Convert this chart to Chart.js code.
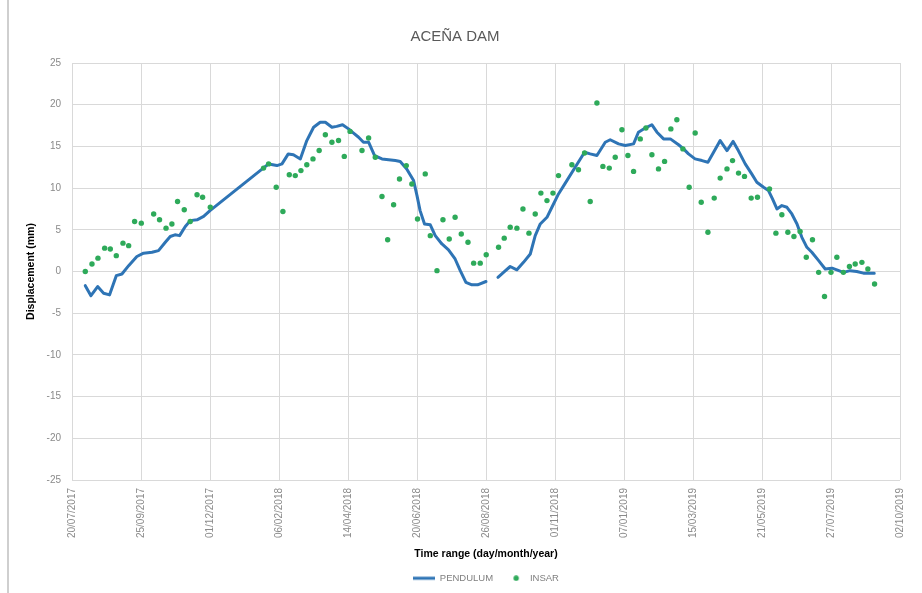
<!DOCTYPE html>
<html>
<head>
<meta charset="utf-8">
<title>ACEÑA DAM</title>
<script src="https://cdn.jsdelivr.net/npm/chart.js@4/dist/chart.umd.min.js"></script>
<style>
  html, body { margin: 0; padding: 0; background: #ffffff; }
  #wrap { position: relative; width: 922px; height: 593px; overflow: hidden; }
  #wrap canvas { position: absolute; left: 0; top: 0; }
  #edge { position: absolute; left: 7px; top: 0; width: 2px; height: 593px; background: #cfcfcf; }
</style>
</head>
<body>
<div id="wrap">
  <canvas id="chart" width="922" height="593"></canvas>
  <div id="edge"></div>
</div>
<script>
// Axis dates, one every 67 days starting at 20/07/2017 (day 0)
const xTickLabels = ['20/07/2017', '25/09/2017', '01/12/2017', '06/02/2018', '14/04/2018',
  '20/06/2018', '26/08/2018', '01/11/2018', '07/01/2019', '15/03/2019',
  '21/05/2019', '27/07/2019', '02/10/2019'];
const tickStepDays = 67;

const yTickStep = 5;
const yMin = -25;
const yMax = 25;

// Pendulum readings: days since 20/07/2017 and displacement (mm); null marks the missing stretch
const pendulumDays = [12.9, 18.4, 24.9, 30.7, 36.5, 43, 48.5, 55, 63, 69.5, 77.7, 84, 90.6, 95.4, 100,
  104.5, 110, 114.9, 121.4, 127.8, 134, 190.9, 199, 203.9, 210, 215, 221.7, 228, 234.6, 241, 246,
  252.4, 257, 262.7, 268.5, 273.4, 278.3, 283, 288, 293.8, 301, 307.4, 314, 318.7, 325, 331.7, 335,
  338, 342.3, 347.9, 352.7, 359.2, 365.6, 372, 377, 382.5, 388.3, 393.8, 402, 408, 413.6, 419, 425.5,
  432, 438.4, 445, 449.8, 454.7, 461.2, 466, 472.4, 479, 488.6, 497.7, 503.2, 509.7, 517.8, 522.6,
  530.7, 537.2, 545.3, 550, 556.6, 563, 568, 574.4, 581, 589, 593.8, 598.6, 605, 611.7, 617.5, 623,
  629.4, 636, 642, 647, 653.7, 660, 665, 671.5, 676.3, 680.2, 684.5, 689.3, 694.2, 699, 704, 708.7,
  713.6, 718.4, 725, 731.4, 738, 742.7, 749, 755.6, 762, 768.5, 775, 779];
const pendulumMm = [-1.7, -2.9, -1.8, -2.6, -2.8, -0.5, -0.3, 0.7, 1.8, 2.2, 2.3, 2.5, 3.5, 4.2, 4.4,
  4.3, 5.4, 6.1, 6.2, 6.6, 7.3, 12.9, 12.7, 12.9, 14.1, 14.0, 13.5, 15.7, 17.3, 17.9, 17.9,
  17.3, 17.4, 17.6, 17.1, 16.6, 16.1, 15.5, 15.5, 13.9, 13.5, 13.4, 13.3, 13.2, 12.3, 10.9, 9.1,
  7.3, 5.7, 5.6, 4.3, 3.3, 2.6, 1.5, 0.1, -1.3, -1.6, -1.6, -1.2, null, -0.7, -0.1, 0.6,
  0.2, 1.1, 2.1, 4.3, 5.7, 6.5, 7.7, 9.3, 10.6, 12.5, 14.3, 14.1, 13.9, 15.5, 15.8,
  15.3, 15.1, 15.3, 16.7, 17.2, 17.6, 16.7, 15.9, 15.9, 15.2, 14.7, 14.1, 13.5, 13.3, 13.1, 14.3,
  15.7, 14.5, 15.6, 14.5, 12.9, 11.7, 10.7, 10.1, 9.7, 8.7, 7.5, 7.9, 7.7, 6.9, 5.7, 4.1,
  2.9, 2.3, 1.3, 0.3, 0.4, 0.2, -0.1, 0.1, 0.0, -0.2, -0.2, -0.2];

// InSAR acquisitions: days since 20/07/2017 and displacement (mm)
const insarDays = [12.9, 19.4, 25.2, 31.7, 37.2, 43, 49.5, 55, 60.8, 67.3, 79.3, 85, 91.3, 97, 102.5,
  109, 114.8, 121.4, 126.8, 134.3, 186, 190.9, 198.3, 204.8, 211, 216.8, 222.3, 228, 234, 240, 246,
  252.4, 258.8, 264.4, 270, 281.6, 288, 294.5, 301, 306.5, 312.3, 318, 324.6, 330, 335.5, 343, 347.9,
  354.4, 360.2, 366.3, 372, 378, 384.5, 390, 396.4, 402.2, 414.2, 419.7, 425.5, 432, 437.9, 443.7,
  449.8, 455.3, 461.2, 467, 472.4, 485.4, 491.8, 497.7, 503.2, 509.7, 515.5, 521.7, 527.5, 534, 539.8,
  545.3, 551.8, 557.3, 563.1, 569.5, 575.4, 581.5, 587.3, 593.2, 599.3, 605.1, 611, 617.5, 623.6,
  629.4, 636, 641.4, 647.2, 653, 659.5, 665.6, 677.3, 683.5, 689.3, 695.1, 701, 707, 713, 719, 725,
  730.7, 737, 742.7, 749, 754.9, 760.5, 767, 772.8, 779.3];
const insarMm = [0.0, 0.9, 1.6, 2.8, 2.7, 1.9, 3.4, 3.1, 6.0, 5.8, 6.9, 6.2, 5.2, 5.7, 8.4,
  7.4, 6.0, 9.2, 8.9, 7.7, 12.4, 12.9, 10.1, 7.2, 11.6, 11.5, 12.1, 12.8, 13.5, 14.5, 16.4,
  15.5, 15.7, 13.8, 16.8, 14.5, 16.0, 13.7, 9.0, 3.8, 8.0, 11.1, 12.7, 10.5, 6.3, 11.7, 4.3,
  0.1, 6.2, 3.9, 6.5, 4.5, 3.5, 1.0, 1.0, 2.0, 2.9, 4.0, 5.3, 5.2, 7.5, 4.6,
  6.9, 9.4, 8.5, 9.4, 11.5, 12.8, 12.2, 14.2, 8.4, 20.2, 12.6, 12.4, 13.7, 17.0, 13.9,
  12.0, 15.9, 17.2, 14.0, 12.3, 13.2, 17.1, 18.2, 14.7, 10.1, 16.6, 8.3, 4.7, 8.8,
  11.2, 12.3, 13.3, 11.8, 11.4, 8.8, 8.9, 9.9, 4.6, 6.8, 4.7, 4.2, 4.8, 1.7, 3.8, -0.1,
  -3.0, -0.1, 1.7, -0.1, 0.6, 0.9, 1.1, 0.3, -1.5];

const PENDULUM_BLUE = '#2e74b5';
const INSAR_GREEN = '#2eaa5a';
const GRID_GREY = '#d9d9d9';
const TICK_GREY = '#8a8a8a';
const LEGEND_GREY = '#7f7f7f';

const toPoints = (xs, ys) => xs.map((x, i) => ({ x: x, y: ys[i] }));

// Small swatches for the legend: a thick line and a single dot
function makeSwatch(width, height, paint) {
  const c = document.createElement('canvas');
  c.width = width;
  c.height = height;
  paint(c.getContext('2d'), width, height);
  return c;
}
const lineSwatch = makeSwatch(22, 6, (g, w, h) => {
  g.fillStyle = PENDULUM_BLUE;
  g.fillRect(0, h / 2 - 1.5, w, 3);
});
const dotSwatch = makeSwatch(22, 6, (g, w, h) => {
  g.fillStyle = INSAR_GREEN;
  g.beginPath();
  g.arc(13, h / 2, 2.7, 0, Math.PI * 2);
  g.fill();
});

Chart.defaults.font.family = "'Liberation Sans', Arial, sans-serif";

new Chart(document.getElementById('chart'), {
  type: 'line',
  data: {
    datasets: [
      {
        label: 'PENDULUM',
        data: toPoints(pendulumDays, pendulumMm),
        borderColor: PENDULUM_BLUE,
        backgroundColor: PENDULUM_BLUE,
        borderWidth: 3,
        borderJoinStyle: 'round',
        borderCapStyle: 'round',
        pointRadius: 0,
        pointHoverRadius: 0,
        tension: 0,
        spanGaps: false,
        order: 1
      },
      {
        label: 'INSAR',
        data: toPoints(insarDays, insarMm),
        showLine: false,
        pointRadius: 2.7,
        pointHoverRadius: 3,
        pointBorderWidth: 0,
        pointBackgroundColor: INSAR_GREEN,
        borderColor: INSAR_GREEN,
        backgroundColor: INSAR_GREEN,
        order: 0
      }
    ]
  },
  options: {
    responsive: false,
    animation: false,
    layout: { padding: { left: 10, right: 22, top: 0, bottom: 0 } },
    plugins: {
      title: {
        display: true,
        text: 'ACEÑA DAM',
        color: '#595959',
        font: { size: 15, weight: 'normal' },
        padding: { top: 28, bottom: 17 }
      },
      legend: {
        position: 'bottom',
        fullSize: false,
        labels: {
          usePointStyle: true,
          pointStyleWidth: 22,
          padding: 10,
          color: LEGEND_GREY,
          font: { size: 9.5 },
          generateLabels: () => [
            { text: 'PENDULUM', pointStyle: lineSwatch, fillStyle: PENDULUM_BLUE, strokeStyle: PENDULUM_BLUE,
              lineWidth: 0, fontColor: LEGEND_GREY, hidden: false, datasetIndex: 0 },
            { text: 'INSAR', pointStyle: dotSwatch, fillStyle: INSAR_GREEN, strokeStyle: INSAR_GREEN,
              lineWidth: 0, fontColor: LEGEND_GREY, hidden: false, datasetIndex: 1 }
          ]
        }
      },
      tooltip: { enabled: true }
    },
    scales: {
      x: {
        type: 'linear',
        min: 0,
        max: tickStepDays * (xTickLabels.length - 1),
        ticks: {
          stepSize: tickStepDays,
          autoSkip: false,
          minRotation: 90,
          maxRotation: 90,
          padding: 8,
          color: TICK_GREY,
          font: { size: 10 },
          callback: (v) => xTickLabels[Math.round(v / tickStepDays)] ?? ''
        },
        grid: { color: GRID_GREY, lineWidth: 1, drawTicks: false },
        border: { display: false },
        title: {
          display: true,
          text: 'Time range (day/month/year)',
          color: '#000000',
          font: { size: 10.5, weight: 'bold' },
          padding: { top: 0, bottom: 3 }
        },
        afterFit: (scale) => { scale.height = 83.5; }
      },
      y: {
        min: yMin,
        max: yMax,
        ticks: {
          stepSize: yTickStep,
          padding: 11,
          color: TICK_GREY,
          font: { size: 10 }
        },
        grid: { color: GRID_GREY, lineWidth: 1, drawTicks: false },
        border: { display: false },
        title: {
          display: true,
          text: 'Displacement (mm)',
          color: '#000000',
          font: { size: 10.5, weight: 'bold' },
          padding: { top: 14.7, bottom: 0 }
        },
        afterFit: (scale) => { scale.width = 62; }
      }
    }
  }
});
</script>
</body>
</html>
